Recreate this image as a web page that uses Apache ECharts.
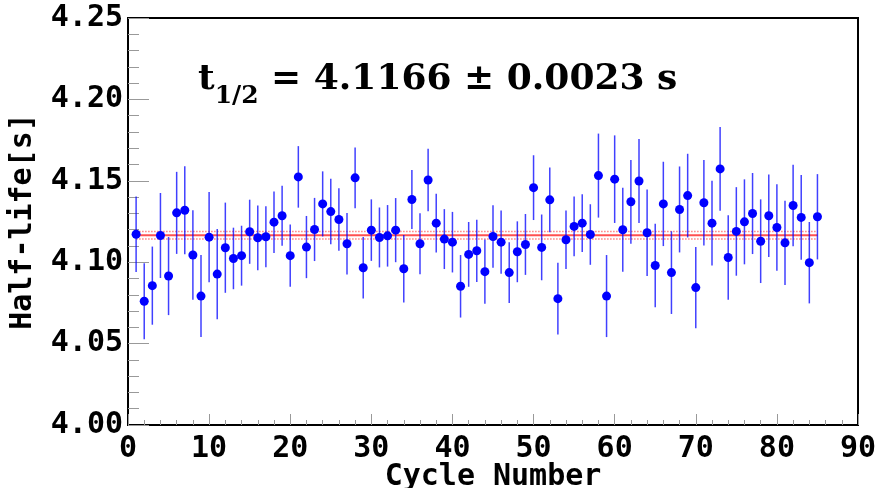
<!DOCTYPE html>
<html>
<head>
<meta charset="utf-8">
<script src="https://cdn.jsdelivr.net/npm/echarts@6/dist/echarts.min.js"></script>
<style>
html,body{margin:0;padding:0;background:#fff;}
#container{width:879px;height:488px;}
</style>
</head>
<body>
<div id="container"></div>
<script>
// cycle number of each measurement
var cycles = [1,2,3,4,5,6,7,8,9,10,11,12,13,14,15,16,17,18,19,20,
  21,22,23,24,25,26,27,28,29,30,31,32,33,34,35,36,37,38,39,40,
  41,42,43,44,45,46,47,48,49,50,51,52,53,54,55,56,57,58,59,60,
  61,62,63,64,65,66,67,68,69,70,71,72,73,74,75,76,77,78,79,80,
  81,82,83,84,85];
// fitted half-life of each cycle [s]
var halfLife = [4.1172,4.0760,4.0856,4.1164,4.0915,4.1303,4.1319,4.1044,4.0792,4.1154,
  4.0927,4.1089,4.1023,4.1040,4.1187,4.1150,4.1156,4.1246,4.1285,4.1040,
  4.1524,4.1093,4.1201,4.1358,4.1311,4.1262,4.1113,4.1518,4.0966,4.1197,
  4.1152,4.1162,4.1197,4.0960,4.1385,4.1113,4.1505,4.1240,4.1142,4.1123,
  4.0852,4.1048,4.1070,4.0942,4.1158,4.1123,4.0936,4.1064,4.1109,4.1458,
  4.1091,4.1383,4.0776,4.1138,4.1220,4.1240,4.1170,4.1532,4.0792,4.1510,
  4.1199,4.1371,4.1499,4.1181,4.0980,4.1358,4.0936,4.1324,4.1409,4.0844,
  4.1365,4.1240,4.1573,4.1029,4.1189,4.1248,4.1299,4.1129,4.1285,4.1213,
  4.1119,4.1348,4.1275,4.0997,4.1279];
// error of each point [s]
var halfLifeErr = [0.0232,0.0234,0.0240,0.0261,0.0240,0.0252,0.0270,0.0275,0.0252,0.0277,
  0.0277,0.0277,0.0189,0.0184,0.0197,0.0199,0.0187,0.0189,0.0184,0.0191,
  0.0189,0.0191,0.0194,0.0200,0.0201,0.0192,0.0189,0.0186,0.0189,0.0189,
  0.0184,0.0189,0.0197,0.0207,0.0181,0.0187,0.0192,0.0181,0.0184,0.0186,
  0.0192,0.0199,0.0191,0.0197,0.0192,0.0194,0.0187,0.0187,0.0187,0.0199,
  0.0202,0.0199,0.0220,0.0180,0.0184,0.0178,0.0186,0.0258,0.0252,0.0269,
  0.0258,0.0257,0.0258,0.0266,0.0256,0.0259,0.0254,0.0264,0.0257,0.0249,
  0.0262,0.0261,0.0257,0.0259,0.0272,0.0261,0.0249,0.0257,0.0253,0.0266,
  0.0259,0.0250,0.0260,0.0250,0.0262];
// weighted mean and its error
var fitRange = [1, 85];
var fitValue = 4.1166;
var fitErr = 0.0023;
var yTicks = [4.00, 4.05, 4.10, 4.15, 4.20, 4.25];
var xTicks = [0, 10, 20, 30, 40, 50, 60, 70, 80, 90];

var monoFont = 'DejaVu Sans Mono';

function fitLine(v){
  return [[fitRange[0], v], [fitRange[1], v]];
}

var points = [], bars = [];
for (var i = 0; i < cycles.length; i++) {
  points.push([cycles[i], halfLife[i]]);
  bars.push([cycles[i], halfLife[i] - halfLifeErr[i], halfLife[i] + halfLifeErr[i]]);
}

var myChart = echarts.init(document.getElementById('container'));
var option = {
  backgroundColor: '#fff',
  animation: false,
  grid: {
    left: 128, right: 21, top: 18, bottom: 63,
    outerBoundsMode: 'none',
    containLabel: false,
    show: true, borderColor: '#000', borderWidth: 2, backgroundColor: '#fff'
  },
  xAxis: {
    type: 'value',
    min: xTicks[0], max: xTicks[xTicks.length - 1], interval: 10,
    name: 'Cycle Number',
    nameLocation: 'middle',
    nameGap: 37,
    nameMoveOverlap: false,
    nameTextStyle: {fontFamily: monoFont, fontWeight: 'bold', fontSize: 30, color: '#000'},
    axisLine: {show: true, lineStyle: {color: '#000', width: 2}},
    axisTick: {inside: true, length: 11, lineStyle: {color: '#999', width: 1}},
    minorTick: {show: true, splitNumber: 5, length: 5, lineStyle: {color: '#999', width: 1}},
    splitLine: {show: false},
    axisLabel: {fontFamily: monoFont, fontWeight: 'bold', fontSize: 30, color: '#000', margin: 9}
  },
  yAxis: {
    type: 'value',
    min: yTicks[0], max: yTicks[yTicks.length - 1], interval: 0.05,
    name: 'Half-life[s]',
    nameLocation: 'middle',
    nameGap: 90,
    nameMoveOverlap: false,
    nameTextStyle: {fontFamily: monoFont, fontWeight: 'bold', fontSize: 30, color: '#000'},
    axisLine: {show: true, lineStyle: {color: '#000', width: 2}},
    axisTick: {inside: true, length: 21, lineStyle: {color: '#999', width: 1}},
    minorTick: {show: true, splitNumber: 5, length: 11, lineStyle: {color: '#999', width: 1}},
    splitLine: {show: false},
    axisLabel: {
      fontFamily: monoFont, fontWeight: 'bold', fontSize: 30, color: '#000', margin: 5,
      formatter: function(v){ return v.toFixed(2); }
    }
  },
  graphic: [{
    type: 'text',
    left: 198,
    top: 62,
    z: 100,
    style: {
      text: '{t|t}{sub|1/2}{t| = 4.1166 ± 0.0023 s}',
      rich: {
        t: {fontFamily: 'DejaVu Serif', fontWeight: 'bold', fontSize: 36, lineHeight: 40, verticalAlign: 'top', fill: '#000'},
        sub: {fontFamily: 'DejaVu Serif', fontWeight: 'bold', fontSize: 25, lineHeight: 26, verticalAlign: 'top', padding: [22, 0, 0, 0], fill: '#000'}
      }
    }
  }],
  series: [
    {
      name: 'fit-',
      type: 'line',
      data: fitLine(fitValue - fitErr),
      symbol: 'none',
      lineStyle: {color: '#ff8080', width: 1.5, type: 'dotted'},
      z: 1
    },
    {
      name: 'fit+',
      type: 'line',
      data: fitLine(fitValue + fitErr),
      symbol: 'none',
      lineStyle: {color: '#ff8080', width: 1.5, type: 'dotted'},
      z: 1
    },
    {
      name: 'fit',
      type: 'line',
      data: fitLine(fitValue),
      symbol: 'none',
      lineStyle: {color: '#ff5050', width: 2},
      z: 1
    },
    {
      name: 'error',
      type: 'custom',
      data: bars,
      z: 2,
      renderItem: function(params, api){
        var lo = api.coord([api.value(0), api.value(1)]);
        var hi = api.coord([api.value(0), api.value(2)]);
        return {
          type: 'line',
          shape: {x1: lo[0], y1: lo[1], x2: hi[0], y2: hi[1]},
          style: {stroke: 'rgba(0,0,255,0.75)', lineWidth: 1.5}
        };
      }
    },
    {
      name: 'half-life',
      type: 'scatter',
      data: points,
      symbol: 'circle',
      symbolSize: 9,
      itemStyle: {color: '#0000ff', opacity: 1},
      z: 3
    }
  ]
};
myChart.setOption(option);
</script>
</body>
</html>
